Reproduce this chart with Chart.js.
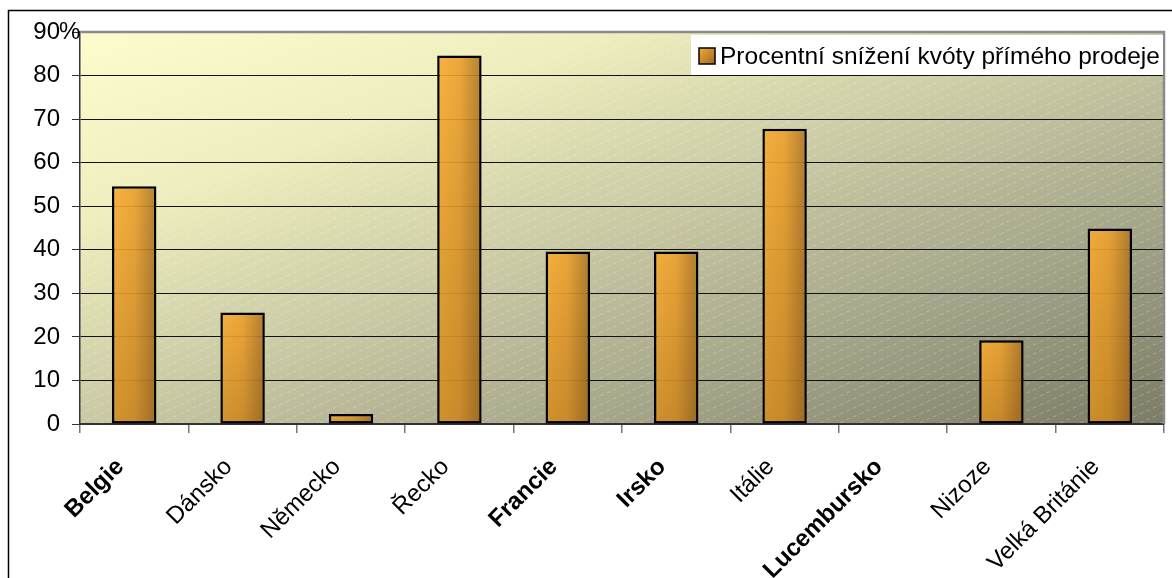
<!DOCTYPE html>
<html>
<head>
<meta charset="utf-8">
<script src="https://cdn.jsdelivr.net/npm/chart.js@4"></script>
<style>
  body { margin: 0; background: #fff; }
  #wrap { width: 1172px; height: 578px; position: relative; }
</style>
</head>
<body>
<div id="wrap"><canvas id="quotaChart"></canvas></div>
<script>
// data
const countries = ['Belgie', 'Dánsko', 'Německo', 'Řecko', 'Francie', 'Irsko', 'Itálie', 'Lucembursko', 'Nizoze', 'Velká Británie'];
const reduction = [54.6, 25.6, 2.3, 84.6, 39.6, 39.6, 67.8, 0, 19.2, 44.9];
const boldLabels = ['Belgie', 'Francie', 'Irsko', 'Lucembursko'];
const seriesLabel = 'Procentní snížení kvóty přímého prodeje';
const yTicks = [0, 10, 20, 30, 40, 50, 60, 70, 80, 90];

const FONT = 'Arial, "Liberation Sans", sans-serif';

// diagonal hatch pattern of the plot area
function makeHatch() {
    const c = document.createElement('canvas');
    c.width = 20; c.height = 9;
    const g = c.getContext('2d');
    g.strokeStyle = 'rgba(255,255,255,0.25)';
    g.lineWidth = 1;
    g.setLineDash([4, 3]);
    g.beginPath();
    g.moveTo(0, 9); g.lineTo(20, 0);
    g.stroke();
    return c;
}
const hatch = makeHatch();

// horizontal light -> dark fill of each bar
function barFill(context) {
    const chart = context.chart;
    const xs = chart.scales.x;
    if (!xs || !chart.chartArea) return '#e59a2c';
    const cx = xs.getPixelForValue(context.dataIndex);
    const w = xs.width / countries.length * 0.41;
    const g = chart.ctx.createLinearGradient(cx - w / 2, 0, cx + w / 2, 0);
    g.addColorStop(0, 'rgba(248,172,50,0.9)');
    g.addColorStop(0.5, 'rgba(236,160,44,0.9)');
    g.addColorStop(1, 'rgba(172,116,36,0.9)');
    return g;
}

const framePlugin = {
    id: 'frame',
    beforeDraw(chart) {
        const { ctx, chartArea: a } = chart;
        ctx.save();
        // outer frame
        ctx.strokeStyle = '#000';
        ctx.lineWidth = 1.5;
        ctx.beginPath();
        ctx.moveTo(8.5, 600); ctx.lineTo(8.5, 10.5); ctx.lineTo(1200, 10.5);
        ctx.stroke();
        // plot background, diagonal in normalised area coords
        ctx.save();
        ctx.translate(a.left, a.top);
        ctx.scale(a.width, a.height);
        const bg = ctx.createLinearGradient(0, 0, 1, 1);
        bg.addColorStop(0, '#fcfccc');
        bg.addColorStop(0.25, '#ededbd');
        bg.addColorStop(0.5, '#c9c9a4');
        bg.addColorStop(0.75, '#a3a388');
        bg.addColorStop(1, '#7c7c66');
        ctx.fillStyle = bg;
        ctx.fillRect(0, 0, 1, 1);
        ctx.restore();
        ctx.fillStyle = ctx.createPattern(hatch, 'repeat');
        ctx.fillRect(a.left, a.top, a.width, a.height);
        ctx.restore();
    },
    afterDatasetsDraw(chart) {
        // darken bars toward the bottom
        const { ctx } = chart;
        ctx.save();
        chart.getDatasetMeta(0).data.forEach(bar => {
            const h = bar.base - bar.y;
            if (h < 1) return;
            const g = ctx.createLinearGradient(0, bar.y, 0, bar.base);
            g.addColorStop(0, 'rgba(90,50,0,0)');
            g.addColorStop(1, 'rgba(90,50,0,0.22)');
            ctx.fillStyle = g;
            ctx.fillRect(bar.x - bar.width / 2 + 1.5, bar.y + 1.5, bar.width - 3, h - 3);
        });
        ctx.restore();
    },
    afterDraw(chart) {
        const { ctx, chartArea: a } = chart;
        ctx.save();
        // plot top/right border
        ctx.strokeStyle = '#8a8a8a';
        ctx.lineWidth = 2.5;
        ctx.beginPath();
        ctx.moveTo(a.left, a.top); ctx.lineTo(a.right, a.top); ctx.lineTo(a.right, a.bottom);
        ctx.stroke();
        // legend box
        ctx.fillStyle = '#fff';
        ctx.fillRect(691, 35, 472, 40);
        const mk = ctx.createLinearGradient(699, 48, 715, 64);
        mk.addColorStop(0, '#f7aa30');
        mk.addColorStop(1, '#9a6a22');
        ctx.fillStyle = mk;
        ctx.fillRect(699, 48, 16, 16);
        ctx.strokeStyle = '#000';
        ctx.lineWidth = 1.5;
        ctx.strokeRect(699, 48, 16, 16);
        ctx.fillStyle = '#000';
        ctx.font = '24.5px ' + FONT;
        ctx.textBaseline = 'middle';
        ctx.textAlign = 'left';
        ctx.fillText(chart.data.datasets[0].label, 720, 57);
        // % after the top tick
        const y90 = chart.scales.y.getPixelForValue(90);
        ctx.font = '24px ' + FONT;
        ctx.fillText('%', 59, y90);
        ctx.restore();
    }
};

const ctx = document.getElementById('quotaChart').getContext('2d');
new Chart(ctx, {
    type: 'bar',
    data: {
        labels: countries,
        datasets: [{
            label: seriesLabel,
            data: reduction,
            backgroundColor: barFill,
            borderColor: '#000',
            borderWidth: 2.5,
            borderSkipped: false,
            categoryPercentage: 0.41,
            barPercentage: 1
        }]
    },
    options: {
        responsive: true,
        maintainAspectRatio: false,
        animation: false,
        layout: { padding: { top: 32, right: 8, left: 0, bottom: 0 } },
        plugins: { legend: { display: false }, tooltip: { enabled: false } },
        scales: {
            x: {
                afterFit: s => { s.height = 154; },
                grid: { drawOnChartArea: false, offset: true, tickLength: 9, tickColor: '#777', lineWidth: 1.5 },
                border: { color: '#333', width: 2 },
                ticks: {
                    autoSkip: false,
                    maxRotation: 45,
                    minRotation: 45,
                    padding: 20,
                    labelOffset: -14,
                    color: '#000',
                    font: c => ({
                        family: FONT,
                        size: 24,
                        weight: boldLabels.includes(countries[c.index]) ? 'bold' : 'normal'
                    })
                }
            },
            y: {
                min: 0,
                max: 90,
                afterFit: s => { s.width = 80; },
                afterBuildTicks: s => { s.ticks = yTicks.map(v => ({ value: v })); },
                grid: { color: '#111', lineWidth: 1, tickLength: 8, tickColor: '#333' },
                border: { color: '#333', width: 1.5 },
                ticks: {
                    padding: 12,
                    color: '#000',
                    font: { family: FONT, size: 24 }
                }
            }
        }
    },
    plugins: [framePlugin]
});
</script>
</body>
</html>
